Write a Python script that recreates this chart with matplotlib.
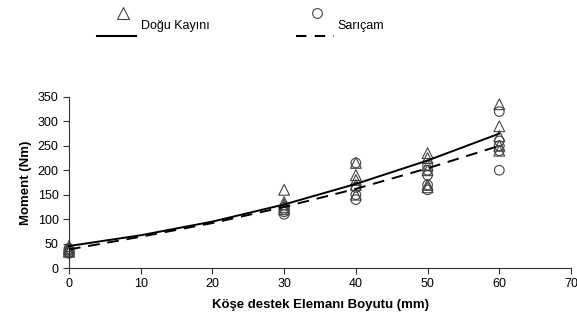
import matplotlib
matplotlib.use("Agg")
import matplotlib.pyplot as plt
from matplotlib.lines import Line2D

plt.rcParams['font.family'] = ['Liberation Sans', 'DejaVu Sans']

# Data: Doğu Kayını (triangles)
dk_x = [0, 0, 0, 0, 0, 30, 30, 30, 30, 30, 40, 40, 40, 40, 40,
        50, 50, 50, 50, 50, 50, 60, 60, 60, 60, 60]
dk_y = [45, 40, 38, 35, 33, 160, 135, 130, 125, 120, 215, 190, 180, 170, 150,
        235, 225, 210, 200, 170, 165, 335, 290, 270, 250, 240]
# Data: Sarıçam (circles)
sc_x = [0, 0, 0, 0, 30, 30, 30, 40, 40, 40, 40,
        50, 50, 50, 50, 50, 60, 60, 60, 60, 60]
sc_y = [40, 36, 32, 30, 120, 115, 110, 215, 165, 150, 140,
        210, 200, 190, 170, 160, 320, 260, 250, 240, 200]
# Trend lines
trend_x = [0, 10, 20, 30, 40, 50, 60]
dk_trend = [45, 67, 95, 130, 172, 220, 275]
sc_trend = [38, 64, 92, 125, 162, 204, 250]

xticks = [0, 10, 20, 30, 40, 50, 60, 70]
yticks = [0, 50, 100, 150, 200, 250, 300, 350]

fig = plt.figure(figsize=(5.77, 3.24), dpi=100)
ax = fig.add_axes([0.1196, 0.1728, 0.870, 0.528])

ax.plot(trend_x, dk_trend, color='black', lw=1.4, zorder=3, clip_on=False)
ax.plot(trend_x, sc_trend, color='black', lw=1.4, dashes=(6, 4), zorder=3, clip_on=False)
ax.scatter(dk_x, dk_y, marker='^', s=60, facecolors='none', edgecolors='#444444',
           linewidths=0.8, zorder=2, clip_on=False)
ax.scatter(sc_x, sc_y, marker='o', s=48, facecolors='none', edgecolors='#444444',
           linewidths=0.8, zorder=2, clip_on=False)

ax.set_xlim(0, 70)
ax.set_ylim(0, 350)
ax.set_xticks(xticks)
ax.set_yticks(yticks)
for s in ['top', 'right']:
    ax.spines[s].set_visible(False)
for s in ['left', 'bottom']:
    ax.spines[s].set_color('#333333')
ax.tick_params(axis='both', labelsize=9, colors='#333333', length=4, direction='out', labelcolor='black')
ax.set_xlabel('Köşe destek Elemanı Boyutu (mm)', fontsize=9.5, fontweight='bold', labelpad=6)
ax.set_ylabel('Moment (Nm)', fontsize=9.5, fontweight='bold', labelpad=4)

# Custom legend above plot
W, H = 577, 324
def fx(px): return px / W
def fy(py): return 1 - py / H

fig.add_artist(Line2D([fx(123)], [fy(13)], marker='^', markersize=8, markerfacecolor='none',
                      markeredgecolor='#444444', markeredgewidth=0.8, linestyle='none'))
fig.add_artist(Line2D([fx(97), fx(136)], [fy(36), fy(36)], color='black', lw=1.5))
fig.text(fx(141), fy(26), 'Doğu Kayını', fontsize=9, va='center', ha='left')

fig.add_artist(Line2D([fx(317)], [fy(13)], marker='o', markersize=7, markerfacecolor='none',
                      markeredgecolor='#444444', markeredgewidth=0.8, linestyle='none'))
fig.add_artist(Line2D([fx(296), fx(334)], [fy(36), fy(36)], color='black', lw=1.5, dashes=(5, 4)))
fig.text(fx(337), fy(26), 'Sarıçam', fontsize=9, va='center', ha='left')

fig.savefig('out.png', dpi=100)
